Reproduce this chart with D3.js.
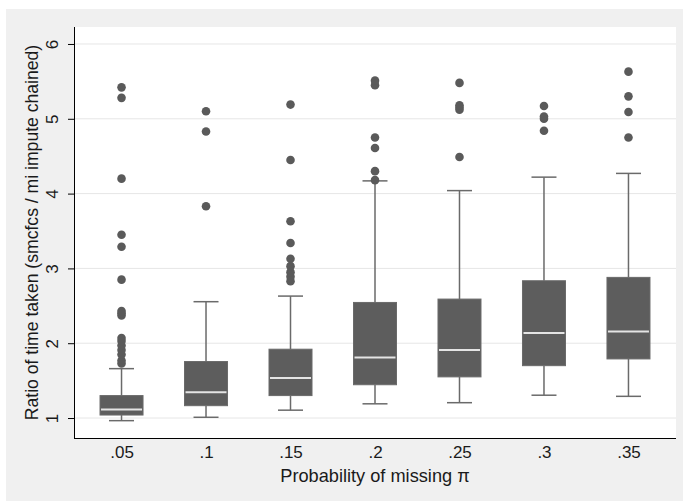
<!DOCTYPE html>
<html>
<head>
<meta charset="utf-8">
<script src="https://cdn.jsdelivr.net/npm/d3@7"></script>
<style>
  body { margin: 0; background: #fff; }
  text { font-family: "Liberation Sans", Arial, sans-serif; fill: #1a1a1a; }
</style>
</head>
<body>
<script>
// categories (probability of missing)
const categories = [".05", ".1", ".15", ".2", ".25", ".3", ".35"];

// box summaries
const q1 = [1.04, 1.165, 1.30, 1.445, 1.55, 1.70, 1.79];
const medians = [1.115, 1.345, 1.535, 1.81, 1.91, 2.135, 2.155];
const q3 = [1.30, 1.755, 1.92, 2.545, 2.59, 2.835, 2.88];
const whiskerLow = [0.965, 1.01, 1.105, 1.19, 1.205, 1.305, 1.29];
const whiskerHigh = [1.66, 2.555, 2.63, 4.17, 4.04, 4.22, 4.27];

// outside values
const outliers = [
  [1.73, 1.77, 1.85, 1.91, 1.97, 2.03, 2.07, 2.37, 2.40, 2.43, 2.85, 3.29, 3.45, 4.20, 5.28, 5.42],
  [3.83, 4.83, 5.10],
  [2.83, 2.89, 2.95, 3.03, 3.13, 3.34, 3.63, 4.45, 5.19],
  [4.18, 4.30, 4.61, 4.75, 5.45, 5.51],
  [4.49, 5.12, 5.15, 5.18, 5.48],
  [4.84, 5.00, 5.03, 5.17],
  [4.75, 5.09, 5.30, 5.63]
];

const yTicks = [1, 2, 3, 4, 5, 6];

const W = 683, H = 501;
const m = { left: 74, right: 7, top: 27, bottom: 63 };

const svg = d3.select("body").append("svg")
  .attr("width", W).attr("height", H);

// stata-like outer background
svg.append("rect")
  .attr("x", 6).attr("y", 9)
  .attr("width", 677).attr("height", 492)
  .attr("fill", "#f0f0f0");

svg.append("rect")
  .attr("x", m.left).attr("y", m.top)
  .attr("width", W - m.left - m.right).attr("height", H - m.top - m.bottom)
  .attr("fill", "#fff");

const x = d3.scalePoint()
  .domain(categories)
  .range([m.left, W - m.right])
  .padding(0.5625);

const y = d3.scaleLinear()
  .domain([0.733, 6.227])
  .range([H - m.bottom, m.top]);

// gridlines
svg.append("g")
  .selectAll("line")
  .data(yTicks)
  .enter().append("line")
  .attr("x1", m.left).attr("x2", W - m.right)
  .attr("y1", d => y(d)).attr("y2", d => y(d))
  .attr("stroke", "#e6e6e6").attr("stroke-width", 1);

// y axis
const yAxis = d3.axisLeft(y).tickValues(yTicks).tickSize(6).tickFormat(d3.format("d"));
const gy = svg.append("g")
  .attr("transform", "translate(" + m.left + ",0)")
  .call(yAxis);
gy.select(".domain").attr("stroke", "#000").attr("d", "M0.5," + m.top + "V" + (H - m.bottom));
gy.selectAll(".tick line").attr("stroke", "#000");
gy.selectAll(".tick text")
  .attr("x", 0).attr("dy", null)
  .attr("transform", "translate(-16,0) rotate(-90)")
  .attr("text-anchor", "middle")
  .style("font-size", "17px")
  .style("font-family", "Liberation Sans, Arial, sans-serif")
  .attr("fill", "#1a1a1a");

// x axis
const xAxis = d3.axisBottom(x).tickSize(0);
const gx = svg.append("g")
  .attr("transform", "translate(0," + (H - m.bottom) + ")")
  .call(xAxis);
gx.select(".domain").attr("stroke", "#000").attr("d", "M" + m.left + ",0.5H" + (W - m.right));
gx.selectAll(".tick text")
  .attr("y", 20).attr("dy", null)
  .style("font-size", "17px")
  .style("font-family", "Liberation Sans, Arial, sans-serif")
  .attr("fill", "#1a1a1a");

const boxW = 43, capW = 25;
const g = svg.append("g");

categories.forEach((c, i) => {
  const cx = x(c);
  // whiskers
  g.append("line")
    .attr("x1", cx).attr("x2", cx)
    .attr("y1", y(whiskerLow[i])).attr("y2", y(q1[i]))
    .attr("stroke", "#6a6a6a").attr("stroke-width", 1.5);
  g.append("line")
    .attr("x1", cx).attr("x2", cx)
    .attr("y1", y(q3[i])).attr("y2", y(whiskerHigh[i]))
    .attr("stroke", "#6a6a6a").attr("stroke-width", 1.5);
  [whiskerLow[i], whiskerHigh[i]].forEach(v => {
    g.append("line")
      .attr("x1", cx - capW / 2).attr("x2", cx + capW / 2)
      .attr("y1", y(v)).attr("y2", y(v))
      .attr("stroke", "#6a6a6a").attr("stroke-width", 1.5);
  });
  // box
  g.append("rect")
    .attr("x", cx - boxW / 2).attr("y", y(q3[i]))
    .attr("width", boxW).attr("height", y(q1[i]) - y(q3[i]))
    .attr("fill", "#5d5d5d")
    .attr("stroke", "#6a6a6a").attr("stroke-width", 1);
  g.append("line")
    .attr("x1", cx - boxW / 2 + 1).attr("x2", cx + boxW / 2 - 1)
    .attr("y1", y(medians[i])).attr("y2", y(medians[i]))
    .attr("stroke", "#e4e4e4").attr("stroke-width", 2);
  // outside values
  g.selectAll(null)
    .data(outliers[i])
    .enter().append("circle")
    .attr("cx", cx).attr("cy", d => y(d))
    .attr("r", 4.3)
    .attr("fill", "#5a5a5a");
});

// axis titles
svg.append("text")
  .attr("transform", "translate(38," + ((m.top + H - m.bottom) / 2) + ") rotate(-90)")
  .attr("text-anchor", "middle")
  .style("font-size", "17.6px")
  .text("Ratio of time taken (smcfcs / mi impute chained)");

svg.append("text")
  .attr("x", (m.left + W - m.right) / 2)
  .attr("y", 482)
  .attr("text-anchor", "middle")
  .style("font-size", "18.2px")
  .text("Probability of missing π");
</script>
</body>
</html>
